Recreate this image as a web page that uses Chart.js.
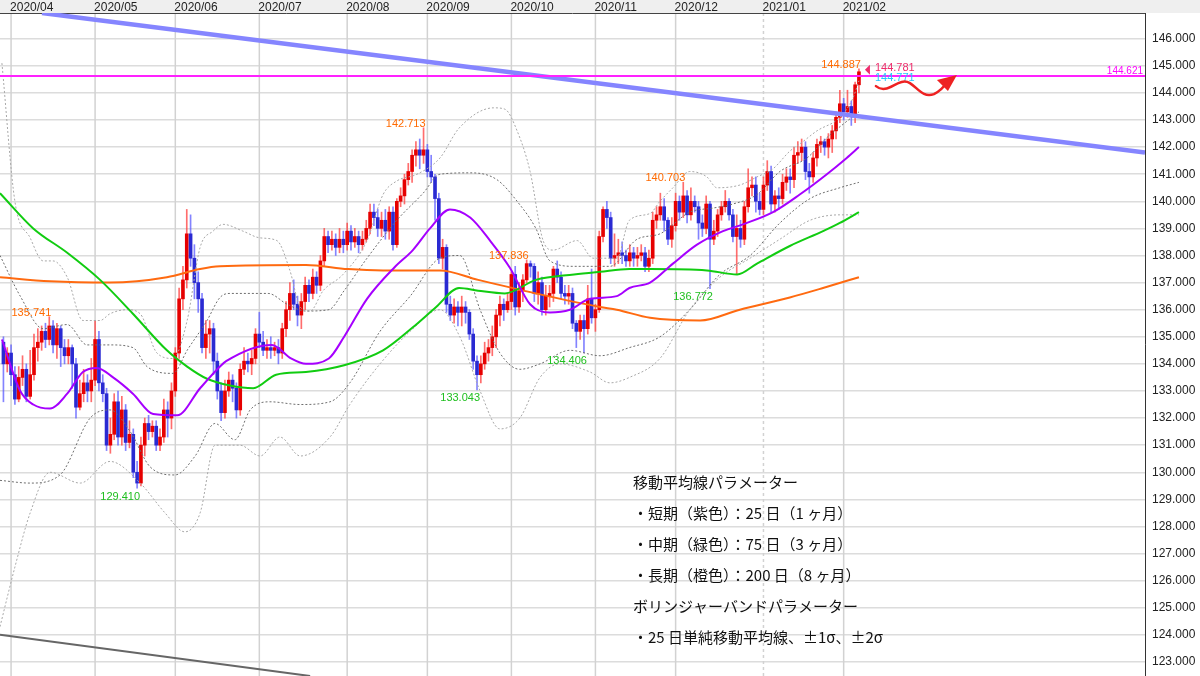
<!DOCTYPE html>
<html><head><meta charset="utf-8">
<script src="https://cdn.jsdelivr.net/npm/chart.js@4/dist/chart.umd.min.js"></script>
<style>html,body{margin:0;padding:0;background:#fff}#wrap{width:1200px;height:676px;position:relative}</style>
</head><body><div id="wrap"><canvas id="c"></canvas></div>
<script>
// ---- data ----
const startIdx = -2; // trading-day index of first candle (2020/04/01 = 0)
const opens = [
134.8,134.0,134.4,133.6,132.7,133.5,133.8,132.8,133.6,134.6, 134.8,135.2,134.9,135.4,134.7,135.3,134.6,134.3,134.6,134.0,
132.4,132.9,133.3,133.0,133.4,134.9,133.3,132.9,131.0,131.4, 132.6,131.3,132.3,131.1,131.4,130.0,129.6,131.0,131.8,131.5,
131.7,131.0,131.3,132.3,132.0,133.0,134.4,136.4,137.1,138.8, 137.9,137.0,136.4,134.6,135.1,135.3,134.1,
133.0,132.2,133.0,133.4,133.1,132.3,133.8,134.1,134.0,134.2, 135.1,134.8,134.5,134.6,134.5,134.6,134.4,135.3,136.0,136.6,
136.2,135.8,136.3,136.9,136.6,137.2,136.9,137.8,138.7,138.4, 138.6,138.3,138.6,
138.4,138.9,138.5,138.7,138.4,138.6,139.0,139.6,139.4,139.0, 139.3,138.9,139.6,138.4,140.0,140.2,140.8,141.1,141.7,141.9,
141.7,141.9,141.1,140.9,140.1,
137.9,138.3,136.2,135.8,136.1,135.9,136.1,135.9,135.1,134.1, 133.6,134.0,134.4,134.6,135.0,135.8,136.2,136.0,136.3,137.3,
136.1,136.7,137.1,137.7,137.6,136.6,137.0,136.0,136.5,136.6, 137.5,137.2,136.6,136.5,136.6,135.5,135.2,135.6,135.3,136.4,
135.7,136.0,138.7,139.7,139.4,137.9,138.0,138.1,138.0,137.8, 138.1,137.9,
138.0,138.1,137.6,137.9,139.3,139.5,139.8,139.3,138.6,139.1, 140.0,139.6,140.2,139.5,140.0,139.8,139.2,139.0,139.9,138.6,
138.9,139.5,139.8,140.0,139.5,138.7,139.0,138.6,139.8,140.5, 140.6,140.0,139.7,140.6,141.1,139.9,140.2,140.1,140.7,140.9,
140.8,141.7,141.8,142.0,141.1,140.9,141.6,142.1,142.2,142.0, 142.3,142.6,143.1,143.6,143.3,143.5,143.2,144.3];
const highs = [
135.0,134.6,134.7,133.9,133.9,134.3,134.0,134.5,135.1,135.3, 135.4,135.5,135.741,135.6,135.5,135.4,134.9,134.9,134.7,134.2,
133.4,133.8,133.6,134.2,135.6,135.2,133.6,133.1,132.0,132.9, 133.0,132.8,132.5,131.9,131.6,130.4,131.3,132.0,132.1,131.9,
131.9,131.6,132.7,132.6,133.3,134.6,136.8,137.6,139.7,139.5, 138.4,137.4,136.6,135.6,135.6,135.5,134.4,
133.3,133.4,133.7,133.6,133.3,134.0,134.6,134.4,134.5,135.3, 135.9,135.2,134.9,135.0,134.8,134.9,135.5,136.3,137.0,137.1,
136.5,136.6,137.2,137.1,137.5,137.4,138.0,139.0,138.9,138.9, 138.8,139.0,138.9,
139.2,139.1,139.0,138.9,138.9,139.3,139.9,139.9,139.7,139.6, 139.7,139.8,139.8,140.1,140.5,141.0,141.4,141.9,142.2,142.3,
142.713,142.1,141.7,141.0,140.3,
138.6,138.4,136.5,136.4,136.3,136.5,136.3,136.0,135.3,134.3, 134.3,134.8,134.9,135.4,136.0,136.5,136.4,136.6,137.4,137.6,
137.0,137.3,137.836,137.8,137.7,137.4,137.2,136.9,136.9,137.6, 137.8,137.4,136.9,136.9,136.8,135.6,135.8,135.8,136.9,137.5,
136.2,138.9,139.8,140.0,139.6,138.8,138.6,138.5,138.2,138.4, 138.3,138.3,
138.4,138.3,138.2,139.6,139.8,140.3,140.1,139.4,139.4,140.3, 140.2,140.703,140.4,140.5,140.2,140.0,139.5,140.2,140.0,139.3,
139.7,140.0,140.4,140.1,139.7,139.5,139.3,140.0,141.2,140.9, 140.9,140.3,140.9,141.5,141.3,140.4,140.5,141.0,141.2,141.2,
142.0,142.2,142.3,142.2,141.4,141.8,142.3,142.4,142.3,142.5, 142.8,143.3,144.1,143.8,144.1,143.7,144.4,144.887];
const lows = [
132.6,133.7,133.2,132.5,132.6,133.2,132.6,132.7,133.4,134.1, 134.5,134.6,134.7,134.4,134.2,133.9,134.0,134.0,133.1,132.0,
132.3,132.6,132.6,132.6,133.2,133.0,132.6,130.8,130.7,131.2, 131.0,131.0,130.8,130.9,129.8,129.41,129.5,130.6,131.2,131.3,
130.8,130.8,131.1,131.3,131.6,132.8,134.2,136.0,136.8,137.6, 136.4,135.9,134.4,134.2,134.4,133.6,132.7,
131.9,132.0,132.8,132.6,132.0,132.1,133.6,133.7,133.6,134.0, 134.6,134.3,134.2,134.2,134.3,134.0,134.2,135.0,135.6,136.0,
135.4,135.3,136.0,136.3,136.4,136.6,136.7,137.6,138.1,138.2, 138.0,138.1,138.1,
138.2,138.2,138.3,138.1,138.2,138.5,138.8,139.1,138.7,138.7, 138.6,138.6,138.2,138.3,139.8,139.9,140.6,140.7,141.3,141.2,
141.4,140.9,140.7,139.3,137.7,
137.5,135.9,135.6,135.5,135.4,135.4,135.5,134.9,133.8,133.043, 133.3,133.8,134.1,134.3,134.6,135.4,135.6,135.9,136.0,135.8,
135.9,136.3,137.0,137.2,136.3,136.2,135.8,135.8,136.1,136.3, 137.0,136.4,136.2,136.2,135.3,134.6,134.9,134.406,135.1,135.5,
135.2,135.9,138.5,139.0,137.7,137.6,137.7,137.7,137.6,137.6, 137.6,137.6,
137.8,137.4,137.4,137.7,139.0,139.3,138.9,138.4,138.3,138.9, 139.3,139.4,139.2,139.3,139.6,138.6,138.7,138.8,136.772,138.4,
138.7,139.3,139.6,139.3,138.5,137.3,138.3,138.4,139.6,140.2, 139.6,139.5,139.5,140.4,139.6,139.6,139.7,139.9,140.4,140.3,
140.5,141.4,141.5,140.8,140.3,140.7,141.3,141.8,141.7,141.6, 141.8,142.3,142.9,143.0,143.1,142.8,142.9,144.0];
const closes = [
134.0,134.4,133.6,132.7,133.5,133.8,132.8,133.6,134.6,134.8, 135.2,134.9,135.4,134.7,135.3,134.6,134.3,134.6,134.0,132.4,
132.9,133.3,133.0,133.4,134.9,133.3,132.9,131.0,131.4,132.6, 131.3,132.3,131.1,131.4,130.0,129.6,131.0,131.8,131.5,131.7,
131.0,131.3,132.3,132.0,133.0,134.4,136.4,137.1,138.8,137.9, 137.0,136.4,134.6,135.1,135.3,134.1,133.0,
132.2,133.0,133.4,133.1,132.3,133.8,134.1,134.0,134.2,135.1, 134.8,134.5,134.6,134.5,134.6,134.4,135.3,136.0,136.6,136.2,
135.8,136.3,136.9,136.6,137.2,136.9,137.8,138.7,138.4,138.6, 138.3,138.6,138.4,
138.9,138.5,138.7,138.4,138.6,139.0,139.6,139.4,139.0,139.3, 138.9,139.6,138.4,140.0,140.2,140.8,141.1,141.7,141.9,141.7,
141.9,141.1,140.9,140.1,137.9,
138.3,136.2,135.8,136.1,135.9,136.1,135.9,135.1,134.1,133.6, 134.0,134.4,134.6,135.0,135.8,136.2,136.0,136.3,137.3,136.1,
136.7,137.1,137.7,137.6,136.6,137.0,136.0,136.5,136.6,137.5, 137.2,136.6,136.5,136.6,135.5,135.2,135.6,135.3,136.4,135.7,
136.0,138.7,139.7,139.4,137.9,138.0,138.1,138.0,137.8,138.1, 137.9,138.0,
138.1,137.6,137.9,139.3,139.5,139.8,139.3,138.6,139.1,140.0, 139.6,140.2,139.5,140.0,139.8,139.2,139.0,139.9,138.6,138.9,
139.5,139.8,140.0,139.5,138.7,139.0,138.6,139.8,140.5,140.6, 140.0,139.7,140.6,141.1,139.9,140.2,140.1,140.7,140.9,140.8,
141.7,141.8,142.0,141.1,140.9,141.6,142.1,142.2,142.0,142.3, 142.6,143.1,143.6,143.3,143.5,143.2,144.3,144.781];

const monthIdx = [0,22,43,65,88,109,131,153,174,197,218];
const monthLabels = ['2020/04','2020/05','2020/06','2020/07','2020/08','2020/09','2020/10','2020/11','2020/12','2021/01','2021/02'];
const yTicks = [123,124,125,126,127,128,129,130,131,132,133,134,135,136,137,138,139,140,141,142,143,144,145,146];

const ma25 = [[-2.4,134.9],[2.4,133.0],[5.8,132.5],[10.2,132.35],[14.7,132.9],[18.8,133.7],[22.5,133.85],[26.7,133.5],[31.9,132.9],[37.2,132.15],[43.5,132.1],[49.5,133.1],[54.7,133.9],[56.3,134.1],[68.3,134.7],[73.3,134.2],[77.2,134.0],[83.2,134.2],[87.2,135.0],[93.2,136.4],[100.3,137.55],[105.2,138.2],[109.7,139.0],[114.9,139.7],[120.2,139.4],[125.4,138.55],[130.6,137.55],[135.9,136.2],[141.1,135.9],[146.3,136.0],[151.6,136.4],[158.6,136.5],[161.9,136.8],[167.3,137.0],[173.3,137.7],[179.6,138.4],[186.4,138.9],[191.6,139.15],[199.5,139.6],[206.5,140.25],[213.6,141.0],[218.8,141.6],[222,142.0]];
const ma75 = [[-2.9,140.3],[5.8,139.0],[14.7,138.1],[23.3,137.1],[31.9,135.85],[40.8,134.5],[46.1,133.9],[51.3,133.45],[57.3,133.2],[63.4,133.1],[69.4,133.6],[77.2,133.7],[87.2,133.95],[97.4,134.5],[105.2,135.35],[111.3,136.1],[117.3,136.8],[122.3,136.7],[129.3,136.6],[137.4,137.1],[147.4,137.3],[154.2,137.4],[161.9,137.5],[167.3,137.5],[182.2,137.45],[190.1,137.3],[195.3,137.7],[203.9,138.35],[212.6,138.9],[217,139.2],[222,139.6]];
const ma200 = [[-2.9,137.2],[10.2,137.05],[25.9,137.0],[40.8,137.2],[49.5,137.5],[54.7,137.6],[77.2,137.65],[88.2,137.5],[97.4,137.45],[112.3,137.45],[122.3,137.1],[137.4,136.6],[154.2,136.1],[158.6,136.0],[167.3,135.7],[180.4,135.6],[190.8,136.0],[203.9,136.45],[212.6,136.8],[222,137.2]];
const bbUp2 = [[-2.4,145.1],[1.0,140.0],[5.0,138.65],[8.4,137.8],[11.0,137.8],[14.7,137.2],[18.8,135.6],[23.3,135.6],[25.9,135.85],[30.4,136.0],[33.8,135.85],[38.2,134.4],[42.4,134.2],[46.1,135.6],[49.5,138.3],[52.9,138.9],[55.5,139.15],[60.7,138.9],[65.2,138.65],[69.6,138.55],[73.0,137.45],[75.7,136.1],[78.3,135.95],[81.7,136.7],[86.9,137.3],[93.2,138.55],[97.4,140.25],[101.0,140.75],[106.3,141.0],[112.3,141.6],[117.3,142.7],[126.4,143.45],[129.3,143.4],[132.5,142.6],[135.9,141.1],[139.3,138.55],[141.9,138.2],[148.2,138.55],[152.4,137.9],[158.6,137.9],[161.9,139.3],[167.3,139.55],[169.9,140.0],[173.3,140.5],[177.7,141.1],[182.2,140.9],[184.8,140.5],[190.8,140.6],[195.3,140.9],[199.5,141.2],[203.9,141.85],[207.3,142.2],[211.0,142.6],[217.0,143.1],[220.4,143.8],[222,144.45]];
const bbUp1 = [[-2.9,138.0],[2.4,136.5],[8.4,135.3],[14.7,135.45],[19.9,134.7],[25.9,134.7],[31.9,134.6],[35.6,133.9],[42.4,133.65],[46.1,134.5],[51.3,135.6],[54.7,136.45],[57.3,136.6],[67.3,136.6],[72.3,136.2],[77.2,135.95],[83.2,136.0],[87.2,136.7],[93.2,137.9],[101.0,139.3],[107.9,140.3],[112.3,141.0],[120.4,141.05],[127.2,140.8],[132.5,140.0],[137.4,139.0],[141.1,137.8],[147.6,137.6],[156.8,137.6],[163.9,138.6],[169.9,138.8],[177.7,139.6],[183.8,139.75],[189.0,139.9],[195.3,140.25],[201.3,141.1],[208.4,141.6],[213.6,142.35],[218.8,142.95],[222,143.3]];
const bbDn1 = [[-2.9,129.7],[5.0,129.6],[12.8,129.9],[20.7,132.0],[25.9,132.3],[31.2,131.5],[36.4,130.2],[42.9,129.9],[48.2,130.6],[53.4,131.8],[58.6,131.2],[62.6,132.3],[67.8,132.6],[75.7,132.5],[83.5,132.6],[88.7,133.3],[96.6,135.2],[104.5,136.5],[112.3,137.9],[117.5,138.0],[122.8,136.0],[128.0,134.4],[133.2,133.8],[138.5,134.0],[146.3,134.5],[154.2,134.3],[161.9,134.6],[169.9,135.0],[177.7,136.0],[185.6,137.3],[193.5,138.0],[201.3,139.2],[209.2,140.1],[217.0,140.5],[222,140.7]];
const bbDn2 = [[-2.9,124.3],[1.0,126.5],[5.0,128.5],[10.2,130.0],[18.1,129.6],[25.9,130.4],[33.8,129.6],[40.3,128.5],[45.5,127.8],[49.5,128.5],[53.4,131.0],[59.9,131.0],[65.2,130.6],[70.4,131.3],[75.7,130.6],[83.5,131.3],[88.7,132.5],[96.6,134.0],[104.5,135.2],[112.3,136.0],[117.5,135.0],[122.8,133.0],[128.0,131.6],[133.2,132.0],[138.5,133.5],[143.7,134.0],[151.6,133.7],[156.8,133.3],[161.9,133.5],[169.9,134.2],[177.7,136.0],[185.6,137.2],[193.5,137.9],[201.3,138.6],[209.2,139.3],[217.0,139.5],[222,139.5]];

const resistance = 144.621;
const trendBlue = [[8.1,146.95],[296.9,141.8]];
const trendGray = [[-2.9,124.0],[78.3,122.48]];
const hiLoIdx = [10,108,135,176,222,33,122,150,183];
const hiLoVal = [135.741,142.713,137.836,140.703,144.887,129.410,133.043,134.406,136.772];
const hiLoKind = ['H','H','H','H','H','L','L','L','L'];
const bidPrice = 144.781, askPrice = 144.771;
const noteLines = ['移動平均線パラメーター','・短期（紫色）：25 日（1 ヶ月）','・中期（緑色）：75 日（3 ヶ月）','・長期（橙色）：200 日（8 ヶ月）','ボリンジャーバンドパラメーター','・25 日単純移動平均線、±1σ、±2σ'];

// ---- build ----
const pts = a => a.map(p => ({x:p[0], y:p[1]}));
const isUp = i => closes[i] >= opens[i];
const wickData = closes.map((c,i)=>({x:startIdx+i, y:[lows[i], highs[i]]}));
const bodyData = closes.map((c,i)=>({x:startIdx+i, y:[Math.min(opens[i],c), Math.max(opens[i],c)]}));
const line = (data,color,w,dash,order)=>({type:'line',data:pts(data),borderColor:color,borderWidth:w,borderDash:dash||[],pointRadius:0,cubicInterpolationMode:'monotone',fill:false,order:order});

const deco = {
  id:'deco',
  beforeDatasetsDraw(ch){
    const {ctx, chartArea:a, scales:{x,y}} = ch;
    ctx.save();
    ctx.fillStyle='#efefef'; ctx.fillRect(0,0,1200,a.top);
    monthIdx.forEach((m,k)=>{
      const px = x.getPixelForValue(m);
      ctx.strokeStyle='#d2d2d2'; ctx.lineWidth=1.5;
      ctx.setLineDash(monthLabels[k]==='2021/01'?[3,3]:[]);
      ctx.beginPath(); ctx.moveTo(px,a.top); ctx.lineTo(px,a.bottom); ctx.stroke();
      ctx.setLineDash([]);
      ctx.fillStyle='#222'; ctx.font='12px "Liberation Sans", Arial'; ctx.textAlign='left'; ctx.textBaseline='alphabetic';
      ctx.fillText(monthLabels[k], px-1, a.top-2);
    });
    ctx.strokeStyle='#444'; ctx.lineWidth=1;
    ctx.beginPath(); ctx.moveTo(0,a.top+0.5); ctx.lineTo(a.right,a.top+0.5); ctx.stroke();
    ctx.fillStyle='#222'; ctx.font='12px "Liberation Sans", Arial'; ctx.textAlign='left'; ctx.textBaseline='middle';
    yTicks.forEach(v=>ctx.fillText(v.toFixed(3), a.right+7, y.getPixelForValue(v)));
    ctx.restore();
  },
  afterDatasetsDraw(ch){
    const {ctx, chartArea:a, scales:{x,y}} = ch;
    ctx.save();
    ctx.font='11px "Liberation Sans", Arial';
    hiLoIdx.forEach((idx,k)=>{
      const px = x.getPixelForValue(idx);
      ctx.textAlign='right';
      if(hiLoKind[k]==='H'){ctx.fillStyle='#ff6a00'; ctx.textBaseline='alphabetic'; ctx.fillText(hiLoVal[k].toFixed(3), px+2, y.getPixelForValue(hiLoVal[k])-1);}
      else {ctx.fillStyle='#1fbf1f'; ctx.textBaseline='top'; ctx.fillText(hiLoVal[k].toFixed(3), px+3, y.getPixelForValue(hiLoVal[k])+3);}
    });
    const ry = y.getPixelForValue(resistance);
    ctx.fillStyle='#ff00ff'; ctx.font='10px "Liberation Sans", Arial'; ctx.textAlign='right'; ctx.textBaseline='alphabetic';
    ctx.fillText(resistance.toFixed(3), a.right-2, ry-2);
    const lx = x.getPixelForValue(startIdx+closes.length-1);
    const by = y.getPixelForValue(bidPrice);
    ctx.font='11px "Liberation Sans", Arial'; ctx.textAlign='left';
    ctx.fillStyle='#ee2c6c'; ctx.textBaseline='middle'; ctx.fillText(bidPrice.toFixed(3), lx+16, by-4);
    ctx.fillStyle='#22c8ff'; ctx.fillText(askPrice.toFixed(3), lx+16, by+6);
    ctx.fillStyle='#ee2c6c'; ctx.beginPath(); ctx.moveTo(lx+6,by-2); ctx.lineTo(lx+11,by-7); ctx.lineTo(lx+11,by+3); ctx.closePath(); ctx.fill();
    const sx = lx+17, sy = ry+12;
    ctx.strokeStyle='#ee2222'; ctx.lineWidth=2.5; ctx.lineCap='round';
    ctx.beginPath(); ctx.moveTo(sx,sy-2);
    ctx.bezierCurveTo(sx+12,sy+8, sx+22,sy-12, sx+34,sy-5);
    ctx.bezierCurveTo(sx+42,sy, sx+47,sy+10, sx+58,sy+6);
    ctx.quadraticCurveTo(sx+66,sy+2, sx+71,sy-6);
    ctx.stroke();
    ctx.fillStyle='#ee2222'; ctx.beginPath();
    ctx.moveTo(sx+81,sy-13); ctx.lineTo(sx+61,sy-8); ctx.lineTo(sx+72,sy+3); ctx.closePath(); ctx.fill();
    ctx.fillStyle='#111'; ctx.font='15px "Noto Sans CJK JP"'; ctx.textAlign='left'; ctx.textBaseline='middle';
    noteLines.forEach((t,k)=>ctx.fillText(t, 633, 482+k*31));
    ctx.restore();
  }
};

new Chart(document.getElementById('c'), {
  data:{datasets:[
    line([[-2.9,resistance],[296.9,resistance]],'#ff22ff',2,null,-2),
    line(trendBlue,'#8585ff',4.5,null,-1),
    line(trendGray,'#666666',2,null,-1),
    line(ma25,'#a600ff',2,null,1),
    line(ma75,'#11cc11',2,null,1),
    line(ma200,'#ff6a10',2,null,1),
    line(bbUp2,'#a8a8a8',1,[2,2],2),
    line(bbDn2,'#a8a8a8',1,[2,2],2),
    line(bbUp1,'#6e6e6e',1,[2,2],2),
    line(bbDn1,'#6e6e6e',1,[2,2],2),
    {type:'bar',data:wickData,barThickness:1,grouped:false,order:4,
     backgroundColor:c=>isUp(c.dataIndex)?'rgba(255,60,60,0.75)':'rgba(90,90,255,0.75)'},
    {type:'bar',data:bodyData,barThickness:3,grouped:false,order:3,minBarLength:1,
     backgroundColor:c=>isUp(c.dataIndex)?'#e60000':'#2a2ad2'}
  ]},
  options:{
    responsive:true, maintainAspectRatio:false, animation:false,
    layout:{padding:{top:13,left:0,right:0,bottom:0}},
    plugins:{legend:{display:false},tooltip:{enabled:false}},
    scales:{
      x:{type:'linear',min:-2.9,max:296.9,display:false,offset:false},
      y:{position:'right',min:122.48,max:146.95,
         afterBuildTicks:s=>{s.ticks=yTicks.map(v=>({value:v}));},
         afterFit:s=>{s.width=55;},
         ticks:{display:false},
         grid:{color:'#dcdcdc',lineWidth:1.5,drawTicks:false},
         border:{display:true,color:'#333',width:1}}
    }
  },
  plugins:[deco]
});
</script></body></html>
